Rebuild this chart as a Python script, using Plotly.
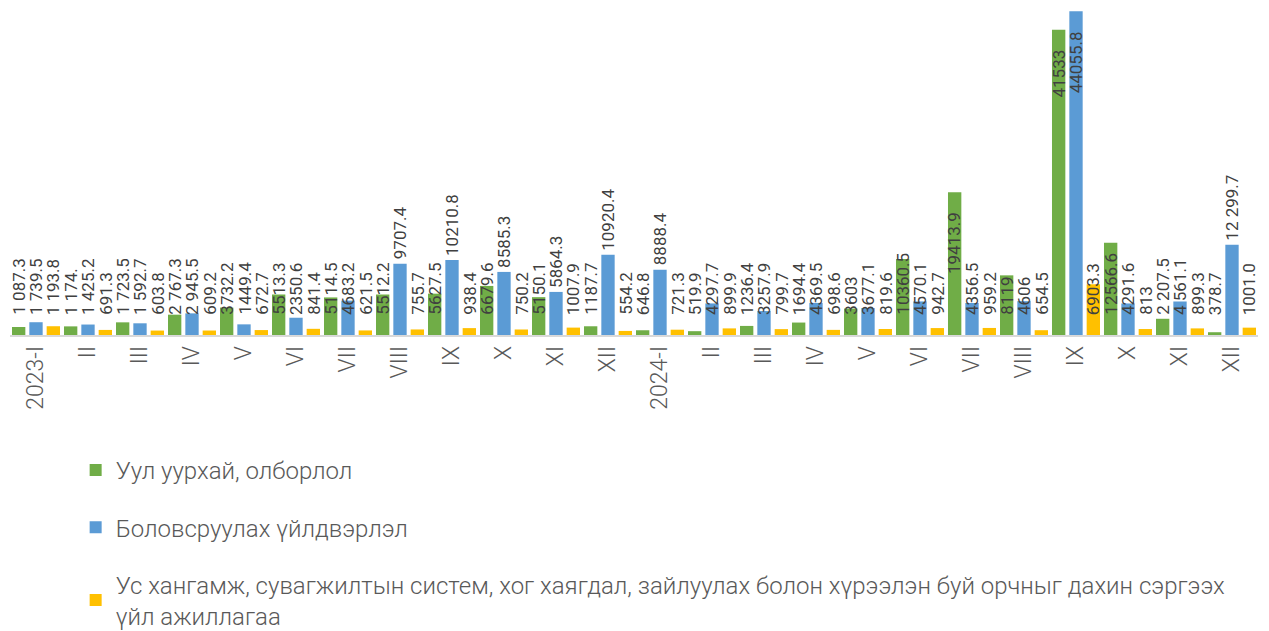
import plotly.graph_objects as go

categories = ["2023-I", "II", "III", "IV", "V", "VI", "VII", "VIII", "IX", "X", "XI", "XII",
              "2024-I", "II", "III", "IV", "V", "VI", "VII", "VIII", "IX", "X", "XI", "XII"]

mining = [1087.3, 1174.0, 1723.5, 2767.3, 3732.2, 5513.3, 5114.5, 5512.2, 5627.5, 6679.6, 5150.1, 1187.7,
          646.8, 519.9, 1236.4, 1694.4, 3603.0, 10360.5, 19413.9, 8119.0, 41533.0, 12566.6, 2207.5, 378.7]
mining_labels = ["1 087.3", "1 174.", "1 723.5", "2 767.3", "3732.2", "5513.3", "5114.5", "5512.2", "5627.5",
                 "6679.6", "5150.1", "1187.7", "646.8", "519.9", "1236.4", "1694.4", "3603", "10360.5",
                 "19413.9", "8119", "41533", "12566.6", "2 207.5", "378.7"]

manuf = [1739.5, 1425.2, 1592.7, 2945.5, 1449.4, 2350.6, 4683.2, 9707.4, 10210.8, 8585.3, 5864.3, 10920.4,
         8888.4, 4297.7, 3257.9, 4369.5, 3677.1, 4570.1, 4356.5, 4606.0, 44055.8, 4291.6, 4561.1, 12299.7]
manuf_labels = ["1 739.5", "1 425.2", "1 592.7", "2 945.5", "1449.4", "2350.6", "4683.2", "9707.4", "10210.8",
                "8585.3", "5864.3", "10920.4", "8888.4", "4297.7", "3257.9", "4369.5", "3677.1", "4570.1",
                "4356.5", "4606", "44055.8", "4291.6", "4 561.1", "12 299.7"]

water = [1193.8, 691.3, 603.8, 609.2, 672.7, 841.4, 621.5, 755.7, 938.4, 750.2, 1007.9, 554.2,
         721.3, 899.9, 799.7, 698.6, 819.6, 942.7, 959.2, 654.5, 6903.3, 813.0, 899.3, 1001.0]
water_labels = ["1 193.8", "691.3", "603.8", "609.2", "672.7", "841.4", "621.5", "755.7", "938.4", "750.2",
                "1007.9", "554.2", "721.3", "899.9", "799.7", "698.6", "819.6", "942.7", "959.2", "654.5",
                "6903.3", "813", "899.3", "1001.0"]

series_names = ["Уул уурхай, олборлол",
                "Боловсруулах үйлдвэрлэл",
                "Ус хангамж, сувагжилтын систем, хог хаягдал, зайлуулах болон хүрээлэн буй орчныг дахин сэргээх<br>үйл ажиллагаа"]
colors = ["#70AD47", "#5B9BD5", "#FFC000"]

x = list(range(len(categories)))
BARGAP = 0.0
SLOT = (1 - BARGAP) / 3

fig = go.Figure()
annotations = []
series = [(mining, mining_labels), (manuf, manuf_labels), (water, water_labels)]
for k, (vals, labs) in enumerate(series):
    fig.add_trace(go.Bar(
        x=x, y=vals, name=series_names[k],
        marker=dict(color=colors[k], line=dict(width=0)),
        legendgroup=str(k),
        hoverinfo="skip",
    ))
    for i, (v, lab) in enumerate(zip(vals, labs)):
        ax = i + (k - 1) * SLOT
        if v > 15000:
            ann = dict(y=v, yanchor="top", yshift=-18)
        elif k == 1 and v > 5000:
            ann = dict(y=v, yanchor="bottom", yshift=2)
        else:
            ann = dict(y=0, yanchor="bottom", yshift=18)
        annotations.append(dict(
            x=ax, xref="x", yref="y", text=lab, showarrow=False, textangle=-90,
            xanchor="center", font=dict(family="Roboto", size=17, color="#404040"), **ann))

fig.update_layout(
    width=1261, height=623,
    margin=dict(l=2, r=11, t=3, b=296),
    plot_bgcolor="white", paper_bgcolor="white",
    barmode="group", bargap=BARGAP, bargroupgap=0.23,
    font=dict(family="Roboto", color="#595959"),
    showlegend=True,
    legend=dict(orientation="v", x=0.0526, xanchor="left",
                yref="container", y=1 - 440 / 623, yanchor="top",
                font=dict(family="Roboto", size=24, color="#595959", weight=300),
                tracegroupgap=23, itemwidth=30, traceorder="grouped"),
    xaxis=dict(tickmode="array", tickvals=x, ticktext=categories, tickangle=-90,
               tickfont=dict(family="Roboto", size=23, color="#595959", weight=300),
               showline=True, linecolor="#D9D9D9", linewidth=1.5, ticks="",
               range=[-0.5, len(categories) - 0.5], showgrid=False, zeroline=False,
               automargin=False),
    yaxis=dict(visible=False, range=[0, 44100], showgrid=False, zeroline=False),
    annotations=annotations,
)

fig.write_html("out.html")
